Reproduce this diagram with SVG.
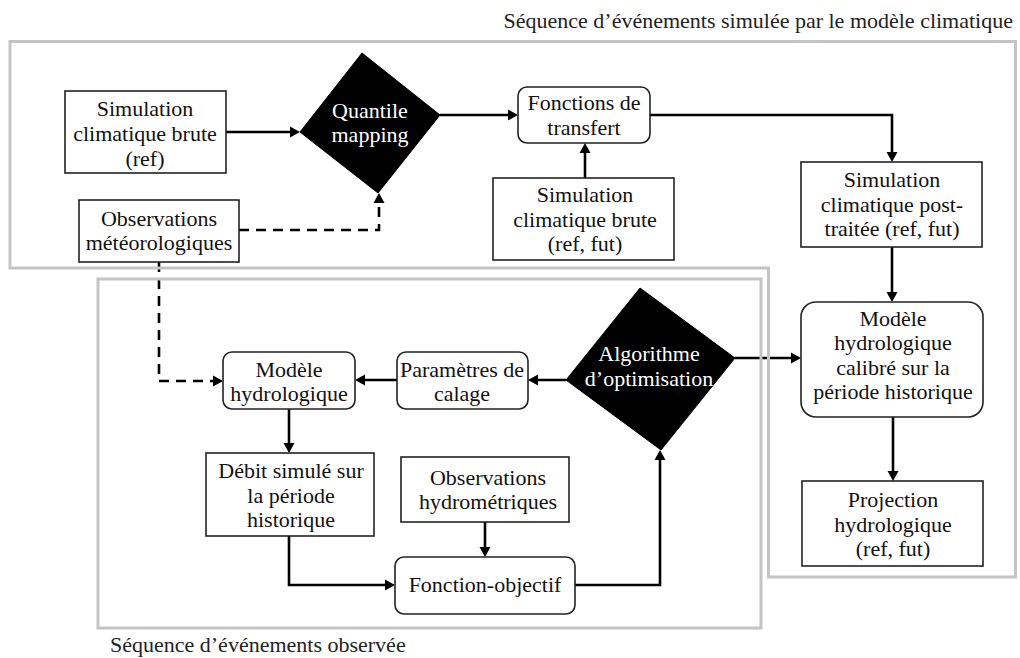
<svg xmlns="http://www.w3.org/2000/svg" width="1020" height="658" viewBox="0 0 1020 658">
  <style>
    text { font-family: "Liberation Serif", "DejaVu Serif", serif; font-size: 22px; fill: #111; text-anchor: middle; }
    .cap { text-anchor: start; fill: #222; }
    .capr { text-anchor: end; fill: #222; }
    .inv { fill: #fff; }
    .box { fill: #fff; stroke: #222; stroke-width: 1.6; }
    .dia { fill: #000; stroke: #000; stroke-width: 1; }
    .frame { fill: none; stroke: #c4c4c4; stroke-width: 3; }
    .link { fill: none; stroke: #000; stroke-width: 2.6; marker-end: url(#arrow); }
    .dash { stroke-dasharray: 10 7; }
  </style>
  <defs>
    <marker id="arrow" markerUnits="userSpaceOnUse" markerWidth="10" markerHeight="12" refX="7" refY="6" orient="auto">
      <path d="M0,0.5 L10,6 L0,11.5 z" fill="#000"/>
    </marker>
  </defs>

  <!-- connectors -->
  <g id="connectors">
    <path class="link" d="M226,132 H297"/>
    <path class="link" d="M440,115 H515"/>
    <path class="link" d="M585,178 V146"/>
    <path class="link" d="M650,115 H892 V159"/>
    <path class="link" d="M892,247 V299"/>
    <path class="link" d="M893,417 V478"/>
    <path class="link dash" d="M239,230 H379 V196"/>
    <path class="link dash" d="M159,262 V381 H220"/>
    <path class="link" d="M397,380 H358"/>
    <path class="link" d="M566,380 H531"/>
    <path class="link" d="M289,409 V450"/>
    <path class="link" d="M289,536 V585 H392"/>
    <path class="link" d="M485,522 V554"/>
    <path class="link" d="M575,585 H660 V453"/>
    <path class="link" d="M735,358 H798"/>
  </g>

  <!-- grouping frames -->
  <g id="frame-climat">
    <path class="frame" d="M10,41.5 H1015.5 V577 H768.5 V268 H10 Z"/>
    <text class="capr" x="1013" y="28">Séquence d’événements simulée par le modèle climatique</text>
  </g>
  <g id="frame-observe">
    <rect class="frame" x="98" y="279" width="663" height="349"/>
    <text class="cap" x="110" y="652">Séquence d’événements observée</text>
  </g>

  <!-- nodes -->
  <g id="sim-ref">
    <rect class="box" x="65" y="91" width="161" height="82"/>
    <text x="145" y="116">Simulation</text>
    <text x="145" y="141">climatique brute</text>
    <text x="145" y="166">(ref)</text>
  </g>
  <g id="quantile-mapping">
    <polygon class="dia" points="362,53 440,115 378,193 300,132"/>
    <text class="inv" x="370" y="118">Quantile</text>
    <text class="inv" x="370" y="142">mapping</text>
  </g>
  <g id="fonctions-transfert">
    <rect class="box" x="518" y="87" width="132" height="56" rx="9"/>
    <text x="584" y="110">Fonctions de</text>
    <text x="584" y="135">transfert</text>
  </g>
  <g id="sim-ref-fut">
    <rect class="box" x="493" y="178" width="181" height="82"/>
    <text x="585" y="202">Simulation</text>
    <text x="585" y="227">climatique brute</text>
    <text x="585" y="251">(ref, fut)</text>
  </g>
  <g id="sim-post">
    <rect class="box" x="801" y="162" width="181" height="85"/>
    <text x="892" y="187">Simulation</text>
    <text x="892" y="212">climatique post-</text>
    <text x="892" y="236">traitée (ref, fut)</text>
  </g>
  <g id="obs-meteo">
    <rect class="box" x="79" y="200" width="160" height="62"/>
    <text x="159" y="226">Observations</text>
    <text x="159" y="250">météorologiques</text>
  </g>
  <g id="modele-hydro">
    <rect class="box" x="223" y="352" width="132" height="57" rx="9"/>
    <text x="289" y="377">Modèle</text>
    <text x="289" y="401">hydrologique</text>
  </g>
  <g id="parametres">
    <rect class="box" x="397" y="352" width="131" height="57" rx="9"/>
    <text x="462" y="377">Paramètres de</text>
    <text x="462" y="401">calage</text>
  </g>
  <g id="algorithme">
    <polygon class="dia" points="640,288 735,358 661,450 566,380"/>
    <text class="inv" x="649" y="361">Algorithme</text>
    <text class="inv" x="649" y="386">d’optimisation</text>
  </g>
  <g id="debit-simule">
    <rect class="box" x="206" y="453" width="168" height="83"/>
    <text x="291" y="478">Débit simulé sur</text>
    <text x="291" y="503">la période</text>
    <text x="291" y="527">historique</text>
  </g>
  <g id="obs-hydro">
    <rect class="box" x="401" y="457" width="168" height="65"/>
    <text x="488" y="485">Observations</text>
    <text x="488" y="509">hydrométriques</text>
  </g>
  <g id="fonction-objectif">
    <rect class="box" x="395" y="557" width="180" height="57" rx="9"/>
    <text x="485" y="592">Fonction-objectif</text>
  </g>
  <g id="modele-calibre">
    <rect class="box" x="801" y="302" width="182" height="115" rx="15"/>
    <text x="893" y="326">Modèle</text>
    <text x="893" y="350">hydrologique</text>
    <text x="893" y="375">calibré sur la</text>
    <text x="893" y="399">période historique</text>
  </g>
  <g id="projection">
    <rect class="box" x="802" y="481" width="181" height="85"/>
    <text x="893" y="507">Projection</text>
    <text x="893" y="532">hydrologique</text>
    <text x="893" y="556">(ref, fut)</text>
  </g>
</svg>
